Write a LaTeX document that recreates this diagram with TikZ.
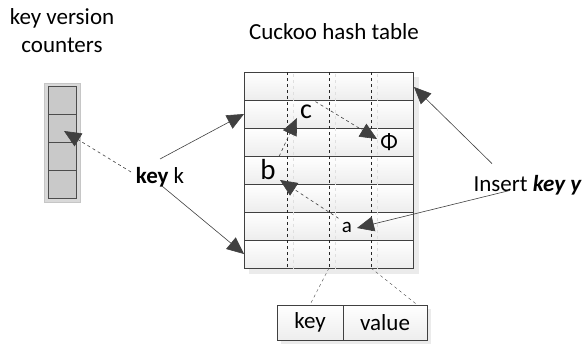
\documentclass[tikz,border=0pt]{standalone}
\usepackage{fontspec}
\setmainfont{Carlito}
\usetikzlibrary{arrows.meta, calc}

\begin{document}
\begin{tikzpicture}[x=1pt, y=-1pt, font=\fontsize{23}{27}\selectfont,
	line/.style={draw=black!70, line width=0.6pt},
	tip/.style={-{Triangle[length=17pt, width=15pt]}, color=black!75},
	cell/.style={draw=black!75, top color=white, bottom color=gray!14},
	counter/.style={draw=black!70, fill=gray!42},
	shade/.style={fill=gray!16, draw=none}]
\useasboundingbox (0,0) rectangle (585,348);
					%%
\node (kv1) at (62,18) {key version};
\node (kv2) at (62,45) {counters};
\node (title) at (334,32) {Cuckoo hash table};

%% key version counters
\fill[gray!30, draw=gray!45] (44,83) rectangle (80,202);
\foreach \i in {0, ..., 3}
\draw[counter] (48,86+28*\i) rectangle (76,114+28*\i);

%% hash table
\fill[shade] (249,77) rectangle (419,274);
\foreach \r in {0, ..., 6}
\draw[cell] (244,72+28*\r) rectangle (413,100+28*\r);
\foreach \x in {287, 329, 371} {
\draw[dashed, gray!25] (\x+6,74) -- (\x+6,270);
\draw[dashed, black!85] (\x,72) -- (\x,268);
}
\coordinate (col2) at (329,268);
\coordinate (col3) at (371,268);

%% key / value slot
\fill[shade] (281,309) rectangle (431,344);
\node[cell, minimum width=66pt, minimum height=35pt, inner sep=0pt] (keycell) at (310,322.5) {key};
\node[cell, minimum width=84pt, minimum height=35pt, inner sep=0pt] (valcell) at (385,322.5) {value};
\draw[dashed, black!70] (col2) -- (keycell.north);
\draw[dashed, black!70] (col3) -- ($(valcell.north east)+(-10,0)$);

%% entries
\node (c) at (306,112) {\fontsize{28}{30}\selectfont c};
\node (phi) at (389,142) {Φ};
\node (b) at (268,170) {\fontsize{29}{30}\selectfont b};
\node (a) at (347,227) {\fontsize{21}{24}\selectfont a};

\node (keyk) at (160,177) {\textbf{key} k};
\node[anchor=west] (ins) at (470,185) {Insert \textbf{\textit{key y}}};

\coordinate (kt) at (160,159);
\coordinate (kb) at (162,186);
\coordinate (kl) at (131,172);
\coordinate (row2) at (244,114);
\coordinate (row7) at (244,254);
\coordinate (cnt) at (64,131);
\coordinate (tr) at (414,87);

\draw[line, tip] (kt) -- (row2);
\draw[line, tip] (kb) -- (row7);
\draw[line, tip, dashed] (kl) -- (cnt);

\draw[line, tip, dashed] (a.north west) -- (280,180);
\draw[line, tip, dashed] (b.north east) -- (297,118);
\draw[line, tip, dashed] (c.north east) -- (377,139);

\draw[line, tip] (ins.north west) ++(22,-8) coordinate (is) (is) -- (tr);
\draw[line, tip] ($(ins.south west)+(40,-8)$) -- (357,228);
				\end{tikzpicture}
\end{document}
